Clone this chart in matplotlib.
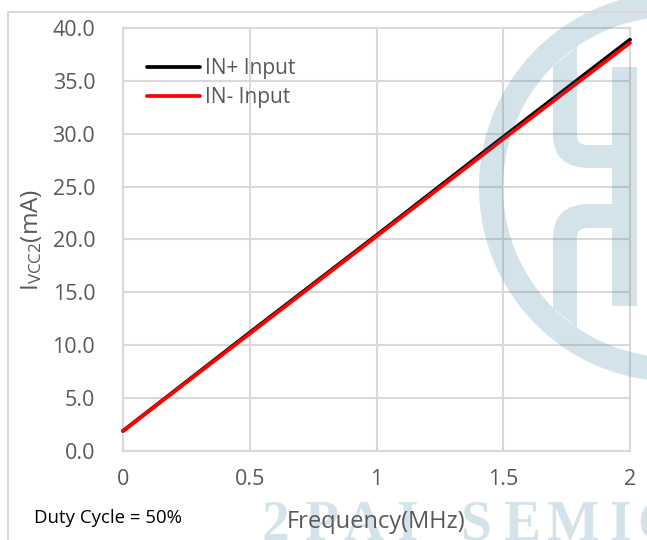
import numpy as np
import matplotlib
matplotlib.use("Agg")
import matplotlib.pyplot as plt
from matplotlib.path import Path
from matplotlib.patches import PathPatch, Wedge, Rectangle
from matplotlib.lines import Line2D

plt.rcParams['font.family'] = ['Open Sans', 'DejaVu Sans']
plt.rcParams['mathtext.default'] = 'regular'

freq = [0, 0.5, 1, 1.5, 2]
in_plus = [1.9, 11.2, 20.4, 29.7, 38.9]
in_minus = [1.9, 11.1, 20.3, 29.5, 38.6]
x_labels = ['0', '0.5', '1', '1.5', '2']
y_ticks = [0, 5, 10, 15, 20, 25, 30, 35, 40]
series_names = ['IN+ Input', 'IN- Input']
wm_letters = ['2', 'P', 'A', 'I', 'S', 'E', 'M', 'I', 'C']
wm_x = [262, 305, 344, 396, 460, 503, 547, 609, 637]

W, H = 647, 540
GRID = '#D9D9D9'
TXT = '#595959'
fig = plt.figure(figsize=(W/100, H/100), dpi=100)
ax = fig.add_axes([123/W, 1-451/H, (630-123)/W, (451-28)/H])
ax.set_xlim(0, 2)
ax.set_ylim(0, 40)
ax.grid(True, color=GRID, lw=1.5, zorder=0)
ax.set_axisbelow(True)
for s in ax.spines.values():
    s.set_color(GRID)
    s.set_linewidth(1.5)
ax.set_xticks(freq, x_labels)
ax.set_yticks(y_ticks, [f'{v:.1f}' for v in y_ticks])
ax.tick_params(length=0, labelsize=15.5, labelcolor=TXT)
ax.tick_params(axis='x', pad=13)
ax.tick_params(axis='y', pad=20)
l1, = ax.plot(freq, in_plus, color='black', lw=2.7, solid_capstyle='round', label=series_names[0], clip_on=False, zorder=3)
l2, = ax.plot(freq, in_minus, color='#FF0000', lw=2.7, solid_capstyle='round', label=series_names[1], clip_on=False, zorder=4)
ax.legend(handles=[l1, l2], loc='upper left', bbox_to_anchor=(0.048, 0.928), frameon=False,
          fontsize=15, labelcolor=TXT, handlelength=2.55, handletextpad=0.2, labelspacing=0.36,
          borderpad=0, borderaxespad=0)

# overlay in pixel coordinates for the frame and watermark
ov = fig.add_axes([0, 0, 1, 1], zorder=5)
ov.set_xlim(0, W)
ov.set_ylim(H, 0)
ov.axis('off')
ov.patch.set_alpha(0)
ov.add_line(Line2D([7.5, 7.5, W], [H, 11.5, 11.5], color=GRID, lw=1.5))

WM = '#1F6A94'
A = 0.19
cx, cy, Ro, Ri = 673.5, 187, 194.5, 170.5
ov.add_patch(Wedge((cx, cy), Ro, 0, 360, width=Ro-Ri, fc=WM, ec='none', alpha=A))
# bar on the right
ov.add_patch(Rectangle((612, 67), 25, 239, fc=WM, ec='none', alpha=A))

def ringy(x, sign):
    return cy + sign*np.sqrt(Ri**2 - (x-cx)**2)

# upper arm
verts = [(553, ringy(553, -1)), (577, ringy(577, -1)), (577, 135), (577, 145), (587, 145), (612, 145),
         (612, 168), (590, 168), (553, 168), (553, 135), (553, ringy(553, -1))]
codes = [Path.MOVETO, Path.LINETO, Path.LINETO, Path.CURVE3, Path.CURVE3, Path.LINETO,
         Path.LINETO, Path.LINETO, Path.CURVE3, Path.CURVE3, Path.CLOSEPOLY]
ov.add_patch(PathPatch(Path(verts, codes), fc=WM, ec='none', alpha=A))
# lower arm
verts = [(553, ringy(553, 1)), (577, ringy(577, 1)), (577, 238), (577, 228), (587, 228), (612, 228),
         (612, 204), (590, 204), (553, 204), (553, 238), (553, ringy(553, 1))]
ov.add_patch(PathPatch(Path(verts, codes), fc=WM, ec='none', alpha=A))

for ch, x in zip(wm_letters, wm_x):
    ov.text(x, 540, ch, family='Liberation Serif', fontweight='bold', fontsize=40, color=WM, alpha=A,
            ha='left', va='baseline')

ov.text(376, 522.5, 'Frequency(MHz)', fontsize=17, color=TXT, ha='center', va='center')
ov.text(32, 240, 'I$_{VCC2}$(mA)', fontsize=17.5, color=TXT, rotation=90, ha='center', va='center')
ov.text(34, 518, 'Duty Cycle = 50%', fontsize=13.4, color='black', ha='left', va='center')

fig.savefig('out.png', dpi=100)
